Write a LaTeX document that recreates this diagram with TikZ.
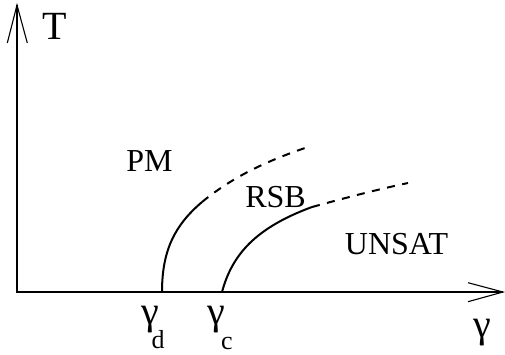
\documentclass[tikz,border=0pt]{standalone}
\usepackage{fontspec}
\setmainfont{Liberation Serif}
\newfontfamily\plotfont{Liberation Serif}
\begin{document}
\begin{tikzpicture}[x=1pt, y=-1pt, line width=1.1pt,
  regionlabel/.style={font=\plotfont\fontsize{32}{32}\selectfont, inner sep=0pt},
  gammalabel/.style={font=\plotfont\fontsize{40}{40}\selectfont, inner sep=0pt},
  sublabel/.style={font=\plotfont\fontsize{26}{26}\selectfont, inner sep=0pt},
  phaseline/.style={line width=2pt},
  transition/.style={line width=2pt, dash pattern=on 8pt off 7.5pt}]
  \useasboundingbox (0,0) rectangle (505,354);
  % axes
  \coordinate (O) at (17,292);
  \coordinate (Ttip) at (17,5);
  \coordinate (Gtip) at (503,292);
  \draw (Ttip) -- (O) -- (Gtip);
  \draw (7.3,43) -- (Ttip) -- (27.3,43);
  \draw (468,282.7) -- (Gtip) -- (468,301.7);
  % phase boundaries
  \coordinate (gd) at (162,292);
  \coordinate (gc) at (222,292);
  \coordinate (d1) at (202,202);
  \coordinate (c1) at (312,207);
  \draw[phaseline] (gd) .. controls (162,250) and (175,225) .. (d1);
  \draw[transition] (d1) .. controls (235,175) and (270,160) .. (305,148);
  \draw[phaseline] (gc) .. controls (232,255) and (255,228) .. (c1);
  \draw[transition] (c1) .. controls (345,198) and (375,190) .. (408,183);
  % labels
  \node[gammalabel] (T) at (55,26) {T};
  \node[regionlabel] (PM) at (149.5,161.5) {PM};
  \node[regionlabel] (RSB) at (275.5,197.5) {RSB};
  \node[regionlabel] (UNSAT) at (396.5,244) {UNSAT};
  \node[gammalabel] (gamma) at (482.5,333) {γ};
  \node[gammalabel] (gammad) at (150,320) {γ};
  \node[sublabel] (dsub) at (158,340) {d};
  \node[gammalabel] (gammac) at (216,320) {γ};
  \node[sublabel] (csub) at (227,343) {c};
\end{tikzpicture}
\end{document}
